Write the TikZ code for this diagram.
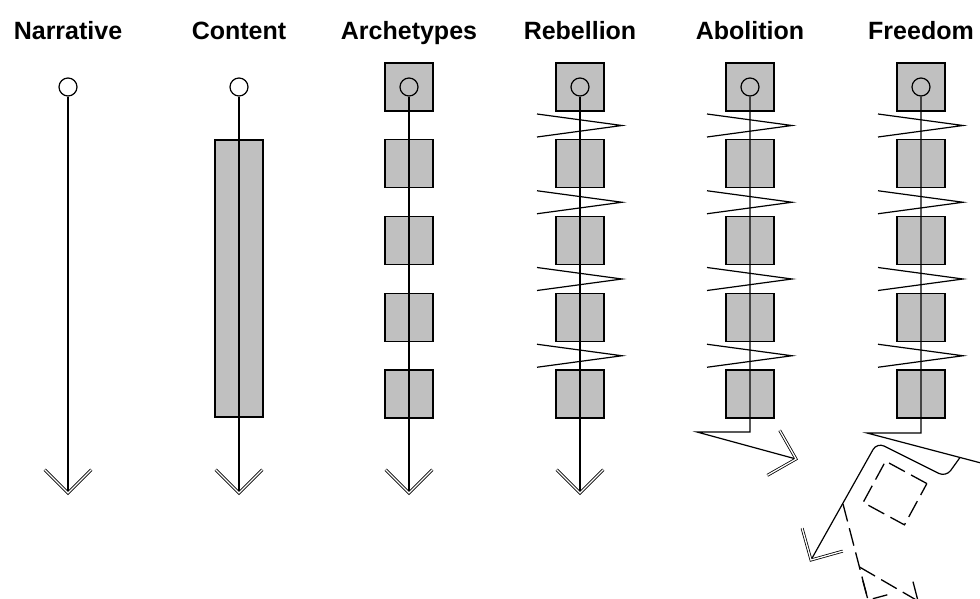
\documentclass[tikz,border=0pt]{standalone}
\usepackage{fontspec}
\setmainfont{Liberation Sans}
\definecolor{boxgray}{RGB}{192,192,192}
\tikzset{
  stroke/.style={line width=1.2pt, black},
  start/.style={circle, draw=black, line width=1.2pt, minimum size=18pt, inner sep=0pt},
  block/.style={rectangle, draw=black, fill=boxgray, line width=1.2pt,
                minimum width=48pt, minimum height=48pt, inner sep=0pt},
  arm/.style={double=white, draw=black, double distance=1.3pt, line width=0.8pt},
  dashline/.style={line width=1.3pt, dash pattern=on 18pt off 7pt},
  title/.style={font=\bfseries\fontsize{25}{25}\selectfont, anchor=base, inner sep=0pt}
}
% V-shaped open head at a tip: #1 tip, #2 travel direction (deg), #3 arm length
\newcommand\openhead[3]{%
  \draw[arm, line join=miter] (#1) ++(#2+135:#3) -- (#1) -- ++(#2-135:#3);}
\begin{document}
\begin{tikzpicture}[x=1pt, y=-1pt]
\clip (0,0) rectangle (980,599);
\useasboundingbox (0,0) rectangle (980,599);

% column titles
\node[title] (tN) at (68,40)  {Narrative};
\node[title] (tC) at (239,40) {Content};
\node[title] (tA) at (409,40) {Archetypes};
\node[title] (tR) at (580,40) {Rebellion};
\node[title] (tB) at (750,40) {Abolition};
\node[title] (tF) at (921,40) {Freedom};

% --- Narrative
\node[start] (n0) at (68,87) {};
\coordinate (ntip) at (68,493);
\draw[stroke] (n0) -- (ntip);
\openhead{ntip}{90}{33}

% --- Content
\node[block, minimum height=277pt] (cbar) at (239,278.5) {};
\node[start] (c0) at (239,87) {};
\coordinate (ctip) at (239,493);
\draw[stroke] (c0) -- (ctip);
\openhead{ctip}{90}{33}

% --- Archetypes, Rebellion, Abolition, Freedom: stacked blocks
\foreach \col/\x in {a/409, r/580, b/750, f/921}{
  \foreach \i in {0,...,4}{
    \node[block] (\col\i) at (\x, 87+76.75*\i) {};
  }
  \node[start] (\col c) at (\x,87) {};
}

% Archetypes
\coordinate (atip) at (409,493);
\draw[stroke] (ac) -- (atip);
\openhead{atip}{90}{33}

% zigzags between the blocks
\foreach \x in {580,750,921}{
  \foreach \i in {0,...,3}{
    \draw[stroke] (\x-43, 114+76.75*\i) -- (\x+42, 125.5+76.75*\i) -- (\x-43, 137+76.75*\i);
  }
}

% Rebellion
\coordinate (rtip) at (580,493);
\draw[stroke] (rc) -- (rtip);
\openhead{rtip}{90}{33}

% Abolition: bent end
\coordinate (bk1) at (750,432);
\coordinate (bk2) at (697,432);
\coordinate (btip) at (796,459);
\draw[stroke] (bc) -- (bk1) -- (bk2) -- (btip);
\openhead{btip}{15.3}{33}

% Freedom: bent end leaving the frame
\coordinate (fk1) at (921,433);
\coordinate (fk2) at (867,433);
\coordinate (fout) at (1000,468);
\draw[stroke] (fc) -- (fk1) -- (fk2) -- (fout);

% Freedom: turned-back branch
\coordinate (fs) at (960,457.5);
\coordinate (fq1) at (946,477);
\coordinate (fq2) at (877,442.5);
\coordinate (ftip) at (811,560);
\draw[stroke, rounded corners=8pt] (fs) -- (fq1) -- (fq2) -- (ftip);
\openhead{ftip}{119.4}{33}

% Freedom: dashed ghost block and dashed paths
\node[draw=black, dashline, rotate=-28.5, minimum size=47pt, inner sep=0pt] (fghost) at (895,493) {};
\coordinate (d0) at (843,504);
\coordinate (d1) at (859.5,567);
\coordinate (dtip) at (868,600);
\coordinate (etip) at (918,601);
\draw[dashline] (d0) -- (dtip);
\draw[dashline] (d1) -- (etip);
\draw[dashline] (dtip) ++(255:20) -- (dtip) -- ++(-15:20);
\draw[dashline] (etip) ++(255.5:20) -- (etip);
\end{tikzpicture}
\end{document}
